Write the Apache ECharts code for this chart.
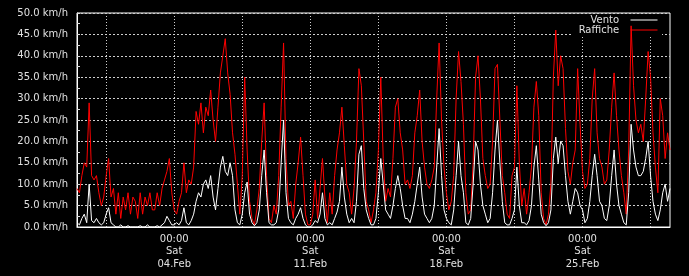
<!DOCTYPE html>
<html><head><meta charset="utf-8">
<script src="https://cdn.jsdelivr.net/npm/echarts@6/dist/echarts.min.js"></script>
<style>html,body{margin:0;padding:0;background:#000}#c{width:689px;height:276px}</style>
</head><body><div id="c"></div>
<script>
// Sample times: hours since 30.Jan 00:00, every 3 hours
const stepHours = 3;
const lastHour = 732;
const hours = [];
for (let h = 0; h <= lastHour; h += stepHours) hours.push(h);

// Vertical grid lines (every 3.5 days) and labelled ticks (Saturdays 00:00)
const gridHours = [36, 120, 204, 288, 372, 456, 540, 624, 708];
const labelHours = [120, 288, 456, 624];
const labelTexts = ['00:00\nSat\n04.Feb', '00:00\nSat\n11.Feb', '00:00\nSat\n18.Feb', '00:00\nSat\n25.Feb'];

// Raffiche (gusts), km/h, 8 samples per day
const raffiche = [
  9, 8, 12, 15, 14, 29, 12, 11,
  12, 8, 5, 7, 12, 16, 7, 9,
  3, 8, 2, 7, 4, 8, 3, 7,
  6, 2, 8, 3, 7, 5, 8, 4,
  4, 8, 5, 9, 11, 13, 16, 8,
  4, 3, 6, 8, 15, 8, 11, 10,
  14, 27, 24, 29, 22, 28, 26, 32,
  25, 20, 28, 36, 40, 44, 36, 31,
  22, 17, 10, 3, 12, 35, 18, 6,
  2, 0.5, 4, 9, 20, 29, 12, 2,
  1, 5, 3, 12, 28, 43, 16, 5,
  6, 2, 10, 15, 21, 12, 3, 0.5,
  0.5, 3, 11, 2, 9, 16, 7, 1,
  8, 3, 12, 18, 22, 28, 19, 10,
  8, 3, 9, 20, 37, 33, 20, 6,
  4, 1, 4, 8, 18, 35, 16, 6,
  9, 7, 16, 28, 30, 22, 18, 10,
  11, 9, 12, 22, 26, 32, 20, 14,
  10, 9, 11, 14, 30, 43, 25, 14,
  8, 4, 6, 12, 30, 41, 34, 24,
  8, 3, 4, 15, 35, 40, 30, 16,
  12, 9, 10, 20, 37, 38, 25, 12,
  8, 3, 2, 12, 14, 33, 15, 5,
  9, 3, 8, 14, 28, 34, 26, 8,
  2, 0.5, 3, 10, 35, 46, 33, 40,
  37, 23, 13, 10, 15, 18, 37, 24,
  13, 9, 10, 16, 30, 37, 22, 16,
  14, 10, 11, 18, 28, 36, 26, 18,
  12, 8, 3, 18, 47, 33, 25, 22,
  24, 20, 30, 41, 35, 22, 14, 8,
  30, 26, 16, 22, 18
];

// Vento (mean wind), km/h
const vento = [
  1, 0.5, 2, 3, 1, 10, 1.5, 1,
  2, 1, 0.5, 1, 3, 4.5, 1, 0.5,
  0, 0, 0.5, 0, 0, 0.3, 0, 0,
  0, 0, 0.3, 0, 0, 0.5, 0, 0,
  0, 0.3, 0, 0.5, 1, 2.5, 1.5, 0.5,
  0.5, 1, 0.5, 1.5, 4.5, 1, 0.5, 1.5,
  3, 6, 8, 7, 10, 11, 9, 12,
  7, 4, 9, 14, 16.5, 13, 12, 15,
  12, 4, 1, 0.5, 3, 8, 10.5, 3,
  1, 0.3, 1, 4, 12, 18, 8, 1,
  0.5, 0.5, 1, 4, 15, 25, 8, 2,
  1, 0.5, 2, 3, 4.5, 2, 0.5, 0,
  0, 0.5, 1.5, 1, 3, 8, 2, 0.5,
  1, 0.5, 2, 3.5, 6, 14, 7, 3,
  1, 2, 1, 6, 17, 19, 9, 4,
  2, 0.5, 0.5, 2, 8, 16, 10, 4,
  3, 2, 5, 9, 12, 9, 5, 2,
  2, 1, 3, 6, 10, 14, 7, 3,
  2, 1, 2, 5, 14, 23, 12, 4,
  2, 1, 0.5, 4, 12, 20, 12, 8,
  1, 0.5, 2, 10, 20, 18, 10, 5,
  3, 1, 2, 8, 18, 25, 15, 6,
  1, 0.5, 0.5, 2, 4, 14, 5, 1,
  1, 0.5, 1.5, 5, 14, 19, 11, 3,
  1, 0.3, 1, 4, 16, 21, 15, 20,
  19, 12, 6, 3, 6, 9, 8, 5,
  4, 1, 2, 6, 12, 17, 12, 6,
  5, 2, 1.5, 5, 12, 18, 10, 5,
  3, 1, 0.5, 8, 24, 18, 14, 12,
  12, 13, 16, 20, 12, 6, 3, 1.5,
  4, 8, 10, 6, 9
];

const yTicks = { min: 0, max: 50, interval: 5 };

const chart = echarts.init(document.getElementById('c'), null, { renderer: 'canvas' });
const font = 'DejaVu Sans';
const txt = '#e0e0e0';
chart.setOption({
  backgroundColor: '#000',
  animation: false,
  grid: { left: 77, right: 19, top: 13, bottom: 49, show: true, borderColor: '#fff', borderWidth: 1, backgroundColor: '#000' },
  legend: {
    data: ['Vento', 'Raffiche'],
    orient: 'vertical', align: 'right',
    right: 27, top: 14, z: 1,
    itemWidth: 27, itemHeight: 12, itemGap: 0,
    backgroundColor: '#000', padding: [1, 4, 2, 6],
    itemStyle: { opacity: 0, borderWidth: 0 },
    lineStyle: { width: 1, opacity: 1 },
    formatter: n => n + '\u00a0\u00a0',
    textStyle: { color: txt, fontSize: 10, fontFamily: font },
    selectedMode: false
  },
  xAxis: {
    type: 'category', data: hours.map(String), boundaryGap: false,
    axisLine: { show: true, lineStyle: { color: '#fff', width: 1 } },
    axisTick: { show: false },
    axisLabel: {
      interval: (i) => labelHours.includes(hours[i]),
      formatter: (v) => { const k = labelHours.indexOf(+v); return k >= 0 ? labelTexts[k] : ''; },
      color: txt, fontSize: 10, fontFamily: font, lineHeight: 12.5, margin: 6
    },
    splitLine: {
      show: true,
      interval: (i) => gridHours.includes(hours[i]),
      lineStyle: { color: '#cfcfcf', type: [1, 2], width: 1 }
    }
  },
  yAxis: {
    type: 'value', min: yTicks.min, max: yTicks.max, interval: yTicks.interval,
    axisLine: { show: true, lineStyle: { color: '#fff', width: 1 } },
    axisTick: { show: true, inside: true, length: 3, lineStyle: { color: '#ddd' } },
    minorTick: { show: true, splitNumber: 2, length: 3, lineStyle: { color: '#ddd' } },
    axisLabel: { formatter: v => v.toFixed(1) + ' km/h', color: txt, fontSize: 10, fontFamily: font, margin: 9 },
    splitLine: { show: true, lineStyle: { color: '#cfcfcf', type: [2, 2], width: 1 } }
  },
  series: [
    { name: 'Raffiche', type: 'line', data: raffiche, symbol: 'none', z: 2,
      lineStyle: { color: '#ff0000', width: 1 }, itemStyle: { color: '#ff0000' } },
    { name: 'Vento', type: 'line', data: vento, symbol: 'none', z: 3,
      lineStyle: { color: '#ffffff', width: 1 }, itemStyle: { color: '#ffffff' } }
  ]
});
</script>
</body></html>
